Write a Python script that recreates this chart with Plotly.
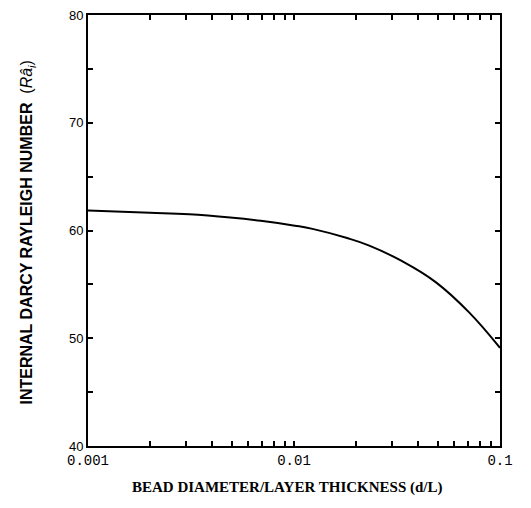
import plotly.graph_objects as go

# Data
ratio_d_over_L = [0.001, 0.002, 0.0031, 0.0049, 0.0069, 0.0101, 0.0123, 0.0181,
                  0.0232, 0.0335, 0.0489, 0.0708, 0.1]
rayleigh_int = [61.85, 61.65, 61.5, 61.2, 60.9, 60.45, 60.15, 59.3,
                58.6, 57.15, 55.19, 52.4, 49.1]

x_major = [0.001, 0.01, 0.1]
x_major_text = ["0.001", "0.01", "0.1"]
x_minor = [m * d for d in (0.001, 0.01) for m in range(2, 10)]
y_major = [40, 50, 60, 70, 80]
y_minor = [45, 55, 65, 75]

x_title = "<b>BEAD DIAMETER/LAYER THICKNESS (d/L)</b>"
y_title = "<b>INTERNAL DARCY RAYLEIGH NUMBER</b>  (<i>Râ<sub>i</sub></i>)"

fig = go.Figure()
fig.add_trace(go.Scatter(
    x=ratio_d_over_L, y=rayleigh_int, mode="lines",
    line=dict(color="black", width=2, shape="spline", smoothing=1.2),
    showlegend=False, hoverinfo="skip",
))

tickvals_x = x_major + x_minor
ticktext_x = x_major_text + [""] * len(x_minor)

# page body has an 8px margin; figure is sized to fit the 531x508 window
fig.update_layout(
    width=523, height=500,
    margin=dict(l=80, r=31, t=7, b=62),
    paper_bgcolor="white", plot_bgcolor="white",
    showlegend=False,
    annotations=[
        dict(text=x_title, xref="paper", yref="paper", x=0.485, y=-0.097,
             xanchor="center", yanchor="middle", showarrow=False,
             font=dict(family="Liberation Serif", size=15, color="black")),
        dict(text=y_title, xref="paper", yref="paper", x=-0.146, y=0.495,
             xanchor="center", yanchor="middle", showarrow=False, textangle=-90,
             font=dict(family="Liberation Sans", size=16, color="black")),
    ],
)
fig.update_xaxes(
    type="log", range=[-3, -1], automargin=False,
    tickmode="array", tickvals=tickvals_x, ticktext=ticktext_x,
    ticks="inside", ticklen=5, tickwidth=1.5, tickcolor="black",
    showline=True, linecolor="black", linewidth=2, mirror="ticks",
    showgrid=False, zeroline=False, ticklabeloverflow="allow",
    tickfont=dict(family="Liberation Mono", size=14, color="black"),
)
fig.update_yaxes(
    range=[40, 80], automargin=False,
    tickmode="array", tickvals=y_major + y_minor,
    ticktext=[str(v) for v in y_major] + [""] * len(y_minor),
    ticks="inside", ticklen=5, tickwidth=1.5, tickcolor="black",
    showline=True, linecolor="black", linewidth=2, mirror="ticks",
    showgrid=False, zeroline=False, ticklabeloverflow="allow",
    tickfont=dict(family="Liberation Sans", size=13, color="black"),
)

fig.write_html("out.html")
